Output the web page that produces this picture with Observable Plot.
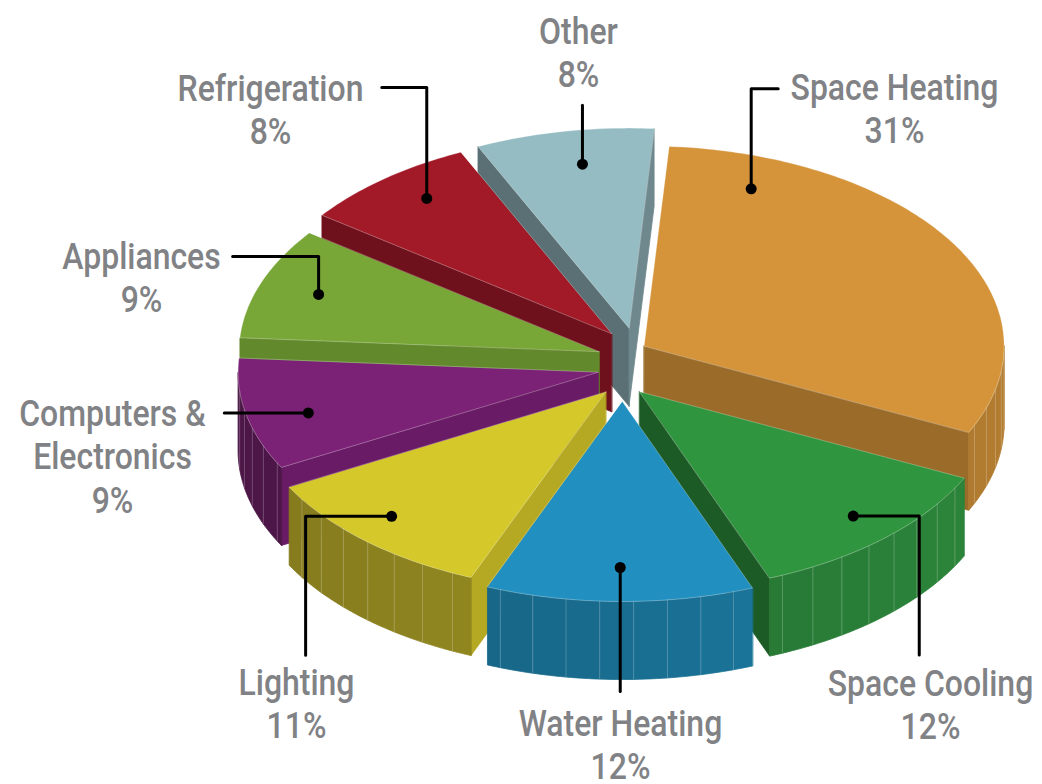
<!DOCTYPE html>
<html>
<head>
<meta charset="utf-8">
<script src="https://cdn.jsdelivr.net/npm/d3@7"></script>
<script src="https://cdn.jsdelivr.net/npm/@observablehq/plot@0.6"></script>
<style>
  html, body { margin: 0; padding: 0; background: #ffffff; }
  #chart { width: 1042px; height: 784px; }
</style>
</head>
<body>
<div id="chart"></div>
<script>
// ---------------- data ----------------
const categories = ["Space Heating", "Space Cooling", "Water Heating", "Lighting",
  "Computers & Electronics", "Appliances", "Refrigeration", "Other"];
const labelTexts = ["Space Heating", "Space Cooling", "Water Heating", "Lighting",
  "Computers &\nElectronics", "Appliances", "Refrigeration", "Other"];
const shares = [31, 12, 12, 11, 9, 9, 8, 8];

// ---------------- palette ----------------
const topColors    = ["#D5943A", "#2F963F", "#2190C0", "#D4C82A", "#7B2277", "#78A637", "#A21A27", "#94BCC2"];
const sideColors   = ["#B27C30", "#2A8038", "#196D90", "#8A801F", "#4C1647", "#5F892B", "#6F111C", "#5A7075"];
const radialColors = ["#9A6B29", "#1C5B26", "#176382", "#B5A823", "#6A1B65", "#628A2C", "#6F111C", "#5A7075"];

// ---------------- layout ----------------
const W = 1042, H = 784;
const CX = 622, CY = 364, RX = 360, RY = 200, DEPTH = 78, EX = 25, EY = 37, START_DEG = 4, FACET = 5.4;
const explodeNudge = {"Other": [11, 0], "Refrigeration": [5, -2]};
const labelLayout = {
  "Space Heating":           {x: 894, base: 99,  dotFrac: 0.15, dotR: 0.84, leader: [[0, 0], [0, -100], [27, -100]]},
  "Space Cooling":           {x: 930, base: 695, dotFrac: 0.48, dotR: 0.86, leader: [[0, 0], [66, 0], [66, 139]]},
  "Water Heating":           {x: 620, base: 735, dotFrac: 0.5,  dotR: 0.83, leader: [[0, 0], [0, 124]]},
  "Lighting":                {x: 296, base: 694, dotFrac: 0.55, dotR: 0.86, leader: [[0, 0], [-86, 0], [-86, 139]]},
  "Computers & Electronics": {x: 112, base: 425, dotFrac: 0.44, dotR: 0.83, leader: [[0, 0], [-84, 0]]},
  "Appliances":              {x: 141, base: 268, dotFrac: 0.5,  dotR: 0.83, leader: [[0, 0], [0, -38], [-86, -38]]},
  "Refrigeration":           {x: 270, base: 100, dotFrac: 0.57, dotR: 0.85, leader: [[0, 0], [0, -111], [-45, -111]]},
  "Other":                   {x: 578, base: 43,  dotFrac: 0.55, dotR: 0.83, leader: [[0, 0], [0, -59]]}
};
const FONT_SIZE = 37, LINE_H = 44, REF_WIDTH_SPACE_HEATING = 208;
const FONT_FAMILY = "Roboto, 'Liberation Sans', sans-serif", FONT_WEIGHT = 500;

// ---------------- geometry ----------------
const rad = d => d * Math.PI / 180;
const total = d3.sum(shares);
let acc = START_DEG;
const slices = categories.map((c, i) => {
  const a0 = acc, a1 = acc + shares[i] / total * 360;
  acc = a1;
  const m = (a0 + a1) / 2;
  const [nx, ny] = explodeNudge[c] ?? [0, 0];
  const apex = [CX + EX * Math.sin(rad(m)) + nx, CY - EY * Math.cos(rad(m)) + ny];
  return {i, c, a0, a1, m, apex};
});
const rim = (s, a, r = 1, dz = 0) => [s.apex[0] + r * RX * Math.sin(rad(a)), s.apex[1] - r * RY * Math.cos(rad(a)) + dz];
const arc = (s, b0, b1, dz = 0) => {
  const n = Math.max(2, Math.ceil(Math.abs(b1 - b0)));
  return d3.range(n + 1).map(k => rim(s, b0 + (b1 - b0) * k / n, 1, dz));
};

function facesOf(s) {
  const faces = [];
  const radial = a => [s.apex, rim(s, a), rim(s, a, 1, DEPTH), [s.apex[0], s.apex[1] + DEPTH]];
  let rc = 0;
  if (Math.sin(rad(s.a0)) < -1e-6) {
    faces.push({pts: radial(s.a0), fill: radialColors[s.i], stroke: radialColors[s.i]});
    rc++;
  }
  if (Math.sin(rad(s.a1)) > 1e-6) {
    const col = rc ? d3.color(radialColors[s.i]).brighter(0.55).formatHex() : radialColors[s.i];
    faces.push({pts: radial(s.a1), fill: col, stroke: col});
  }
  const lines = [];
  const v0 = Math.max(s.a0, 90), v1 = Math.min(s.a1, 270);
  if (v1 > v0) {
    const cuts = [v0];
    for (let b = Math.ceil(v0 / FACET) * FACET; b < v1; b += FACET) if (b - v0 > 0.8 && v1 - b > 0.8) cuts.push(b);
    cuts.push(v1);
    const vm = Math.sin(rad((v0 + v1) / 2));
    for (let k = 0; k < cuts.length - 1; k++) {
      const b0 = cuts[k], b1 = cuts[k + 1], mid = (b0 + b1) / 2;
      const shade = -0.45 * (Math.sin(rad(mid)) - vm);
      const col = d3.color(sideColors[s.i]).darker(shade).formatHex();
      faces.push({pts: [...arc(s, b0, b1), ...arc(s, b1, b0, DEPTH)], fill: col, stroke: col});
      if (k > 0) lines.push([rim(s, b0), rim(s, b0, 1, DEPTH)]);
    }
  }
  faces.push({pts: [s.apex, ...arc(s, s.a0, s.a1)], fill: topColors[s.i], stroke: "rgba(255,255,255,0.35)"});
  return {faces, lines};
}

const order = slices.slice().sort((p, q) => Math.cos(rad(q.m)) - Math.cos(rad(p.m)));
const marks = [];
for (const s of order) {
  const {faces, lines} = facesOf(s);
  const rows = faces.flatMap((f, j) => f.pts.map(p => ({x: p[0], y: p[1], z: `${s.i}-${j}`, fill: f.fill, stroke: f.stroke})));
  marks.push(Plot.line(rows, {x: "x", y: "y", z: "z", fill: "fill", stroke: "stroke", strokeWidth: 0.8, curve: "linear-closed"}));
  const lrows = lines.flatMap((l, j) => l.map(p => ({x: p[0], y: p[1], z: j})));
  if (lrows.length) marks.push(Plot.line(lrows, {x: "x", y: "y", z: "z", stroke: "#ffffff", strokeOpacity: 0.22, strokeWidth: 1}));
}

// annotations
const dots = slices.map(s => {
  const L = labelLayout[s.c];
  const a = s.a0 + (s.a1 - s.a0) * L.dotFrac;
  const p = rim(s, a, L.dotR);
  return {c: s.c, x: p[0], y: p[1]};
});
const leaderRows = dots.flatMap(d => labelLayout[d.c].leader.map(([dx, dy]) => ({c: d.c, x: d.x + dx, y: d.y + dy})));
const lineHeightEm = LINE_H / FONT_SIZE;
// Plot places the first baseline at y + 0.71 * lineHeight em for lineAnchor "top"
const labelRows = categories.map((c, i) => ({
  x: labelLayout[c].x,
  y: labelLayout[c].base - 0.71 * lineHeightEm * FONT_SIZE,
  text: `${labelTexts[i]}\n${shares[i]}%`
}));

marks.push(Plot.line(leaderRows, {x: "x", y: "y", z: "c", stroke: "#000000", strokeWidth: 3}));
marks.push(Plot.dot(dots, {x: "x", y: "y", r: 5.5, fill: "#000000"}));
marks.push(Plot.text(labelRows, {
  x: "x", y: "y", text: "text", textAnchor: "middle", lineAnchor: "top",
  lineHeight: lineHeightEm, fontSize: FONT_SIZE, fill: "#818285",
  fontFamily: FONT_FAMILY, fontWeight: FONT_WEIGHT
}));

const chart = Plot.plot({
  width: W, height: H, margin: 0,
  x: {domain: [0, W], range: [0, W], axis: null},
  y: {domain: [0, H], range: [0, H], axis: null},
  color: {type: "identity"},
  style: {background: "#ffffff", overflow: "visible"},
  marks
});
document.getElementById("chart").append(chart);

// condense the label glyphs horizontally (condensed typeface look)
function condense() {
  const ctx = document.createElement("canvas").getContext("2d");
  ctx.font = `${FONT_WEIGHT} ${FONT_SIZE}px ${FONT_FAMILY}`;
  const sx = REF_WIDTH_SPACE_HEATING / ctx.measureText("Space Heating").width;
  const texts = chart.querySelectorAll('g[aria-label="text"] text');
  texts.forEach((t, i) => {
    const cx = labelRows[i].x;
    const orig = t.getAttribute("data-orig-transform") ?? (t.getAttribute("transform") || "");
    t.setAttribute("data-orig-transform", orig);
    t.setAttribute("transform", `translate(${cx},0) scale(${sx},1) translate(${-cx},0) ${orig}`);
  });
}
condense();
if (document.fonts && document.fonts.ready) document.fonts.ready.then(condense);
</script>
</body>
</html>
